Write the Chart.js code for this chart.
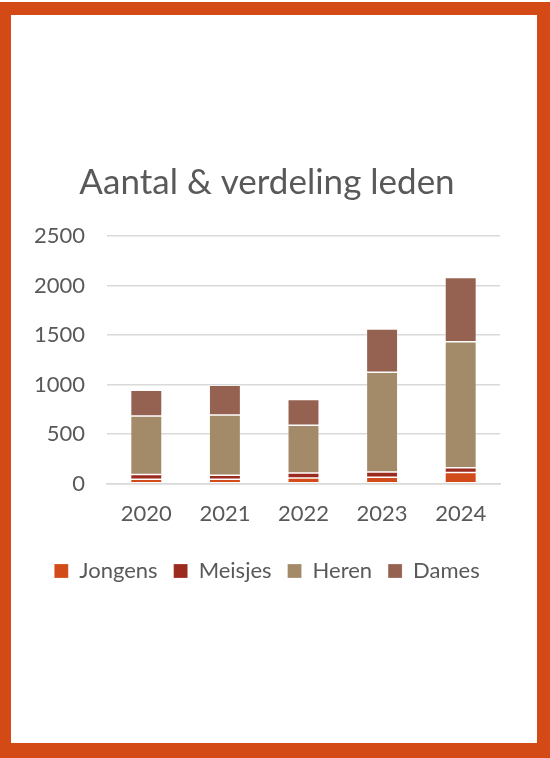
<!DOCTYPE html>
<html>
<head>
<meta charset="utf-8">
<script src="https://cdn.jsdelivr.net/npm/chart.js@4"></script>
<style>
  html, body { margin: 0; padding: 0; background: #ffffff; }
  body { width: 550px; height: 758px; position: relative; overflow: hidden; }
  #wrap { position: absolute; left: 0; top: 0; width: 550px; height: 758px; }
  #frame { position: absolute; left: 0; top: 2px; width: 550px; height: 756px; box-sizing: border-box;
           border-style: solid; border-color: #D44A17;
           border-width: 13px 13px 15px 11px; pointer-events: none; }
</style>
</head>
<body>
<div id="wrap"><canvas id="c" width="550" height="758"></canvas></div>
<div id="frame"></div>
<script>
const categories = ['2020', '2021', '2022', '2023', '2024'];
const jongens = [45, 44, 57, 64, 111];
const meisjes = [46, 40, 51, 54, 48];
const heren = [591, 608, 480, 1007, 1273];
const dames = [261, 301, 260, 436, 649];
const yTicks = [0, 500, 1000, 1500, 2000, 2500];
const seriesNames = ['Jongens', 'Meisjes', 'Heren', 'Dames'];
const seriesColors = ['#D24B1A', '#9B2A1F', '#A38B69', '#956251'];
const titleText = 'Aantal & verdeling leden';

const seriesData = [jongens, meisjes, heren, dames];
const datasets = seriesNames.map((name, i) => ({
  label: name,
  data: seriesData[i],
  backgroundColor: seriesColors[i],
  borderColor: 'rgba(255,255,255,0.3)',
  borderWidth: 0.75,
  borderSkipped: false,
  categoryPercentage: 0.8,
  barPercentage: 0.5
}));

new Chart(document.getElementById('c'), {
  type: 'bar',
  data: { labels: categories, datasets },
  options: {
    responsive: false,
    animation: false,
    devicePixelRatio: 1,
    layout: { padding: { top: 162, left: 34, right: 50, bottom: 166 } },
    plugins: {
      title: {
        display: true,
        text: titleText,
        color: '#595959',
        font: { family: 'Lato', size: 35, weight: 'normal' },
        padding: { top: 0, bottom: 32 }
      },
      legend: {
        position: 'bottom',
        labels: {
          color: '#595959',
          font: { family: 'Lato', size: 22 },
          boxWidth: 14,
          boxHeight: 14,
          padding: 16
        }
      },
      tooltip: { enabled: false }
    },
    scales: {
      x: {
        stacked: true,
        grid: { display: false, drawTicks: false },
        border: { display: true, color: '#D9D9D9', width: 1.5 },
        ticks: { color: '#595959', font: { family: 'Lato', size: 22 }, padding: 17 }
      },
      y: {
        stacked: true,
        min: 0,
        max: 2500,
        afterBuildTicks: (axis) => { axis.ticks = yTicks.map(v => ({ value: v })); },
        afterFit: (axis) => { axis.width = 73; },
        grid: { color: '#D9D9D9', lineWidth: 1.5, drawTicks: false },
        border: { display: false },
        ticks: {
          color: '#595959',
          font: { family: 'Lato', size: 22 },
          padding: 22,
          callback: (v) => String(v)
        }
      }
    }
  }
});
</script>
</body>
</html>
